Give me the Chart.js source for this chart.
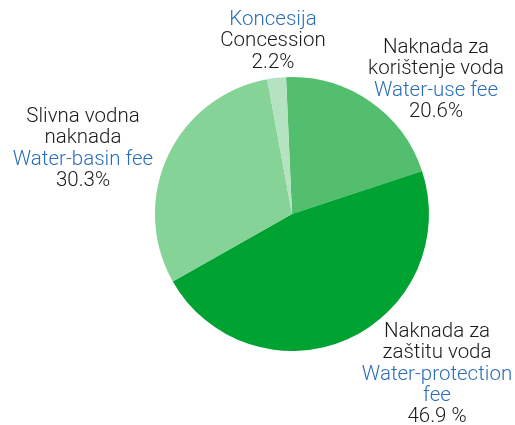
<!DOCTYPE html>
<html>
<head>
<meta charset="utf-8">
<script src="https://cdn.jsdelivr.net/npm/chart.js@4"></script>
<style>
  body { margin: 0; background: #fff; }
  #wrap { width: 515px; height: 425px; }
</style>
</head>
<body>
<div id="wrap"><canvas id="feeChart" width="515" height="425"></canvas></div>
<script>
// chart data
const labelsHr = ['Naknada za korištenje voda', 'Naknada za zaštitu voda', 'Slivna vodna naknada', 'Koncesija'];
const labelsEn = ['Water-use fee', 'Water-protection fee', 'Water-basin fee', 'Concession'];
const shares = [20.6, 46.9, 30.3, 2.2];
const shareText = ['20.6%', '46.9 %', '30.3%', '2.2%'];
const sliceColors = ['#52be6e', '#00a332', '#85d396', '#b5e2c0'];

// label blocks: each line is [text, colour]
const dark = '#1a1a1a';
const blue = '#2a6ebb';
const labelBlocks = [
  { x: 436, y: 48, lines: [['Naknada za', dark], ['korištenje voda', dark], [labelsEn[0], blue], [shareText[0], dark]] },
  { x: 437, y: 332, lines: [['Naknada za', dark], ['zaštitu voda', dark], ['Water-protection', blue], ['fee', blue], [shareText[1], dark]] },
  { x: 83, y: 117, lines: [['Slivna vodna', dark], ['naknada', dark], [labelsEn[2], blue], [shareText[2], dark]] },
  { x: 273, y: 20, lines: [['Koncesija', blue], [labelsEn[3], dark], [shareText[3], dark]] }
];

const textLabels = {
  id: 'textLabels',
  afterDraw(chart) {
    const c = chart.ctx;
    c.save();
    c.font = '300 20.5px Roboto, "Liberation Sans", Arial, sans-serif';
    c.textAlign = 'center';
    c.textBaseline = 'middle';
    labelBlocks.forEach(b => {
      b.lines.forEach((ln, i) => {
        c.fillStyle = ln[1];
        c.fillText(ln[0], b.x, b.y + i * 21.2);
      });
    });
    c.restore();
  }
};

const ctx = document.getElementById('feeChart').getContext('2d');

new Chart(ctx, {
  type: 'pie',
  data: {
    labels: labelsHr,
    datasets: [{
      data: shares,
      backgroundColor: sliceColors,
      borderWidth: 0
    }]
  },
  options: {
    responsive: false,
    animation: false,
    rotation: -2.5,
    layout: { padding: { left: 155, right: 86, top: 77, bottom: 74 } },
    plugins: {
      legend: { display: false },
      tooltip: { enabled: false }
    }
  },
  plugins: [textLabels]
});
</script>
</body>
</html>
